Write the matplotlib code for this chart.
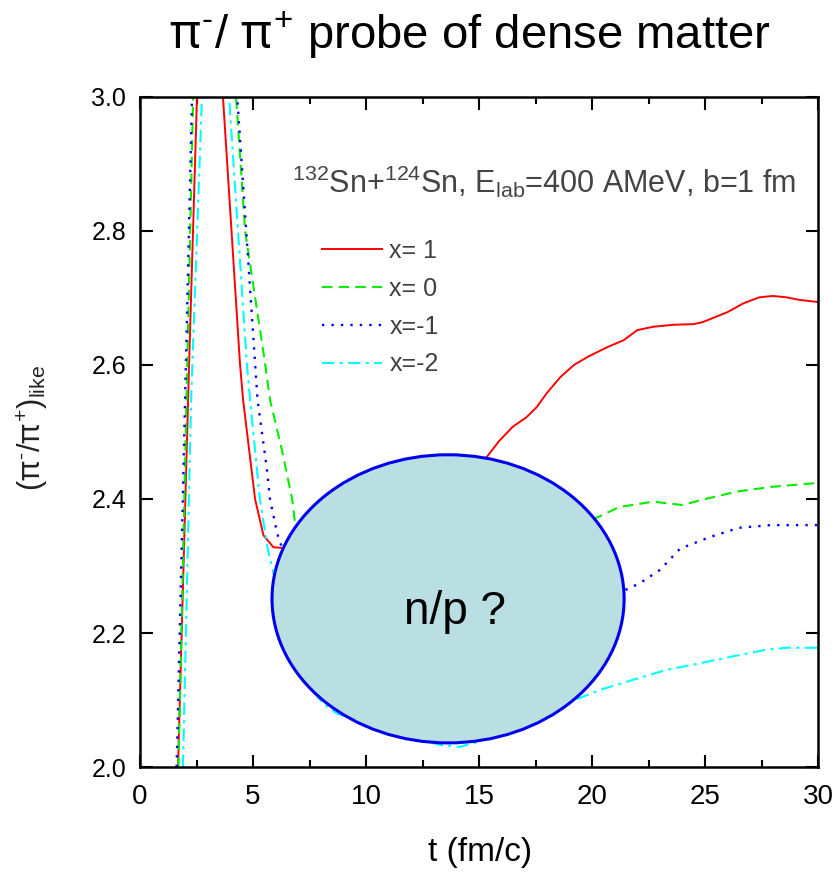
import matplotlib
matplotlib.use('Agg')
import matplotlib.pyplot as plt
from matplotlib.patches import Ellipse
import numpy as np

plt.rcParams['font.family'] = ['Liberation Sans', 'DejaVu Sans']
plt.rcParams['mathtext.fontset'] = 'custom'
plt.rcParams['mathtext.rm'] = 'Liberation Sans'
plt.rcParams['mathtext.it'] = 'Noto Sans'   # upright pi

# curve data (t in fm/c, ratio)
t_x1 = [1.68, 2.17, 2.52, 3.1, 3.67, 4.42, 4.56, 5.09, 5.46, 5.9, 6.3, 7.0, 9.0, 11.0, 13.0, 14.5, 15.35,
        15.9, 16.5, 17.1, 17.55, 18.0, 18.6, 19.2, 19.8, 20.7, 21.4, 22.0, 22.7, 23.6, 24.5, 24.9,
        26.0, 26.7, 27.4, 28.0, 28.6, 29.2, 30.0]
r_x1 = [2.0, 2.6, 3.0, 3.25, 3.0, 2.603, 2.548, 2.4, 2.346, 2.328, 2.327, 2.33, 2.35, 2.38, 2.42, 2.445, 2.463,
        2.487, 2.508, 2.522, 2.537, 2.558, 2.582, 2.6, 2.612, 2.627, 2.637, 2.652, 2.657, 2.66, 2.661, 2.664,
        2.679, 2.692, 2.701, 2.703, 2.701, 2.697, 2.694]

t_x0 = [1.7, 2.35, 3.3, 4.25, 4.65, 5.53, 5.75, 6.28, 6.73, 6.86, 8.0, 10.0, 12.0, 14.0, 16.0, 18.0, 20.2,
        21.2, 22.7, 24.0, 24.9, 26.4, 27.9, 30.0]
r_x0 = [2.0, 3.0, 3.3, 3.0, 2.8, 2.603, 2.548, 2.473, 2.4, 2.364, 2.34, 2.33, 2.335, 2.345, 2.355, 2.365, 2.372,
        2.388, 2.396, 2.391, 2.399, 2.411, 2.418, 2.424]

t_xm1 = [1.62, 2.3, 3.3, 4.3, 4.4, 5.09, 5.2, 5.6, 5.75, 6.06, 6.2, 7.0, 9.0, 11.0, 13.0, 15.0, 17.0, 19.0,
         21.46, 22.1, 23.0, 23.9, 25.2, 26.5, 27.9, 29.3, 30.0]
r_xm1 = [2.0, 3.0, 3.3, 3.0, 2.95, 2.603, 2.548, 2.448, 2.4, 2.35, 2.334, 2.29, 2.24, 2.22, 2.215, 2.22, 2.235, 2.25,
         2.264, 2.274, 2.294, 2.326, 2.343, 2.357, 2.361, 2.361, 2.361]

t_xm2 = [1.9, 2.26, 2.74, 3.3, 3.94, 4.73, 4.87, 5.3, 5.66, 5.9, 6.3, 6.8, 7.2, 7.6, 8.1, 8.7, 9.15, 10.0, 11.0,
         12.0, 13.3, 14.15, 14.9, 16.0, 17.5, 19.0, 20.35, 21.8, 23.3, 24.8, 26.2, 27.7, 28.6, 30.0]
r_xm2 = [2.0, 2.548, 3.0, 3.25, 3.0, 2.6, 2.548, 2.4, 2.324, 2.29, 2.24, 2.18, 2.14, 2.115, 2.095, 2.08, 2.075,
         2.065, 2.053, 2.043, 2.033, 2.03, 2.037, 2.055, 2.075, 2.097, 2.115, 2.13, 2.145, 2.155, 2.165, 2.175,
         2.178, 2.178]

labels = ['x= 1', 'x= 0', 'x=-1', 'x=-2']

fig = plt.figure(figsize=(8.36, 8.72), dpi=100)
ax = fig.add_axes([0.1675, 0.1204, 0.811, 0.7684])

ax.plot(t_x1, r_x1, color='#ff0000', lw=1.4, ls='-', label=labels[0])
ax.plot(t_x0, r_x0, color='#00ee00', lw=1.5, ls=(0, (5, 3)), label=labels[1])
ax.plot(t_xm1, r_xm1, color='#0000ff', lw=1.7, ls=(0, (1, 3)), label=labels[2])
ax.plot(t_xm2, r_xm2, color='#00ffff', lw=1.5, ls=(0, (6, 2.5, 1.5, 2.5)), label=labels[3])

ell = Ellipse((13.63, 2.251), 15.58, 0.43, facecolor='#b9dfe3', edgecolor='#0000ee', lw=2.2, zorder=5)
ax.add_patch(ell)
ax.text(13.94, 2.232, 'n/p ?', fontsize=33, ha='center', va='center', zorder=6)

ax.set_xlim(0, 30)
ax.set_ylim(2.0, 3.0)
ax.set_xticks(np.arange(0, 31, 5))
ax.set_xticks(np.arange(0, 30.1, 2.5), minor=True)
ax.set_yticks(np.arange(2.0, 3.01, 0.2))
ax.set_yticklabels(['2.0', '2.2', '2.4', '2.6', '2.8', '3.0'])
ax.tick_params(which='both', direction='in', top=True, right=True, width=1.5)
ax.tick_params(which='major', length=9)
ax.tick_params(which='minor', length=5)
ax.tick_params(axis='x', labelsize=20, pad=12)
ax.tick_params(axis='y', labelsize=18, pad=10)
for s in ax.spines.values():
    s.set_linewidth(1.8)

ax.text(0.224, 0.857, r'$^{132}$Sn+$^{124}$Sn, E$_{\rm lab}$=400 AMeV, b=1 fm', transform=ax.transAxes,
        fontsize=22, color='#444444', va='baseline')

leg = ax.legend(loc='upper left', bbox_to_anchor=(0.268, 0.788), frameon=False, fontsize=18,
                handlelength=2.4, handletextpad=0.3, labelspacing=0.55, borderpad=0, borderaxespad=0)
for tx in leg.get_texts():
    tx.set_color('#404040')

fig.text(32/836, 1-428/872, r'$(\pi^{\text{-}}/\pi^{+})_{\rm like}$', rotation=90, fontsize=22,
         ha='center', va='center', color='#222222')
fig.text(480/836, 1-852/872, 't (fm/c)', fontsize=24, ha='center', va='center')
fig.text(470/836, 1-35/872, r'$\pi^{\text{-}}$/ $\pi^{+}$ probe of dense matter', fontsize=34,
         ha='center', va='center')

plt.savefig('out.png', dpi=100)
